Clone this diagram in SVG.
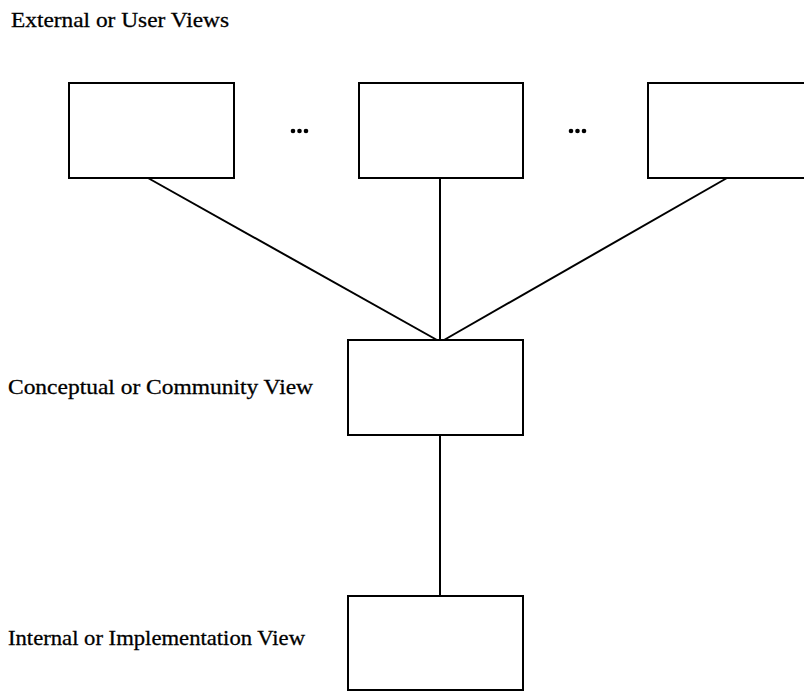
<svg xmlns="http://www.w3.org/2000/svg" width="804" height="691" viewBox="0 0 804 691">
  <style>
    .box { fill: #fff; stroke: #000; stroke-width: 2; }
    .link { stroke: #000; stroke-width: 2; fill: none; }
    .label { font-family: "Liberation Serif", "Times New Roman", serif; font-size: 22px; fill: #000; stroke: #000; stroke-width: 0.3; }
    .dot { fill: #000; }
  </style>
  <rect width="804" height="691" fill="#fff"/>

  <!-- level labels -->
  <text class="label" x="11" y="27" textLength="218" lengthAdjust="spacingAndGlyphs">External or User Views</text>
  <text class="label" x="8" y="394" textLength="305" lengthAdjust="spacingAndGlyphs">Conceptual or Community View</text>
  <text class="label" x="8" y="645" textLength="297" lengthAdjust="spacingAndGlyphs">Internal or Implementation View</text>

  <!-- connectors -->
  <g id="connectors">
    <line class="link" x1="148" y1="178" x2="437" y2="340"/>
    <line class="link" x1="440" y1="178" x2="440" y2="340"/>
    <line class="link" x1="727" y1="178" x2="444" y2="340"/>
    <line class="link" x1="440" y1="435" x2="440" y2="596"/>
  </g>

  <!-- external views -->
  <g id="user-view-1">
    <rect class="box" x="69" y="83" width="165" height="95"/>
  </g>
  <g id="ellipsis-1">
    <circle class="dot" cx="293" cy="131" r="2.3"/>
    <circle class="dot" cx="299.5" cy="131" r="2.3"/>
    <circle class="dot" cx="306" cy="131" r="2.3"/>
  </g>
  <g id="user-view-2">
    <rect class="box" x="359" y="83" width="164" height="95"/>
  </g>
  <g id="ellipsis-2">
    <circle class="dot" cx="571" cy="131" r="2.3"/>
    <circle class="dot" cx="577.5" cy="131" r="2.3"/>
    <circle class="dot" cx="584" cy="131" r="2.3"/>
  </g>
  <g id="user-view-3">
    <rect class="box" x="648" y="83" width="170" height="95"/>
  </g>

  <!-- conceptual view -->
  <g id="conceptual-view">
    <rect class="box" x="348" y="340" width="175" height="95"/>
  </g>

  <!-- internal view -->
  <g id="internal-view">
    <rect class="box" x="348" y="596" width="175" height="94"/>
  </g>
</svg>
